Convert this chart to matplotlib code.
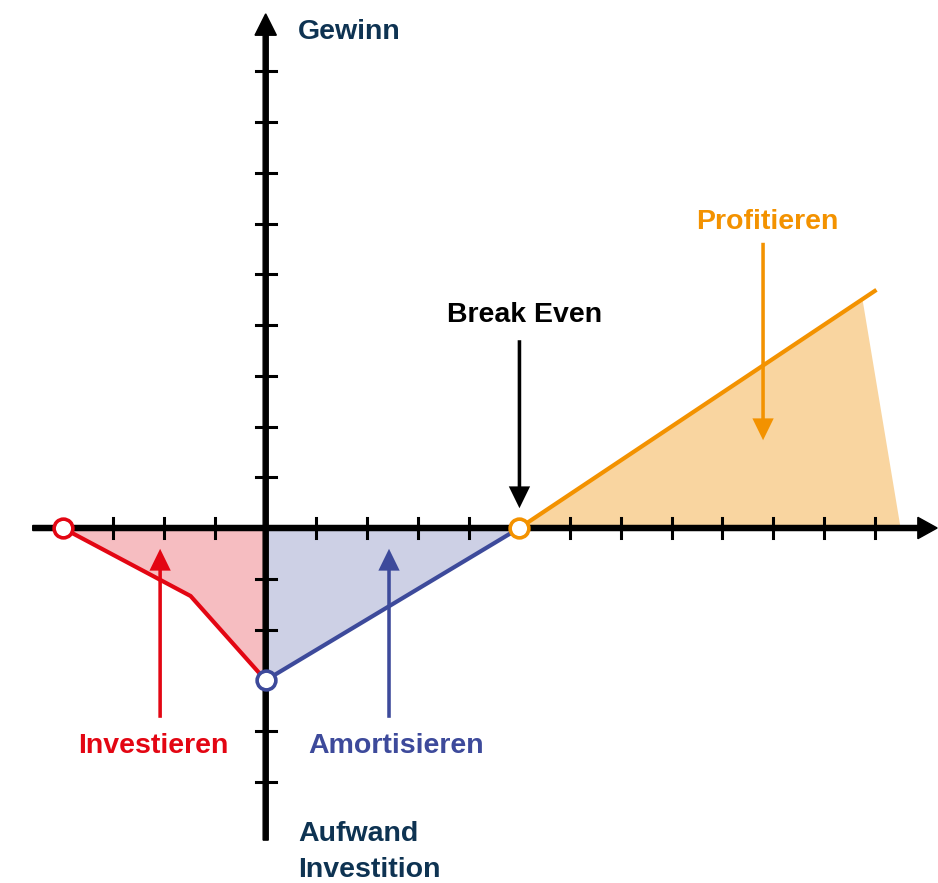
import matplotlib
matplotlib.use("Agg")
import matplotlib.pyplot as plt
from matplotlib.patches import FancyArrow

# Kurvenpunkte (Einheiten = Teilstriche)
invest_x = [-4, -1.48, 0]
invest_y = [0, -1.34, -3]
amort_x = [0, 5]
amort_y = [-3, 0]
profit_x = [5, 12]
profit_y = [0, 4.67]
profit_fill_x = [5, 11.76, 12.51]
profit_fill_y = [0, 4.5, 0]

x_ticks = [-3, -2, -1, 1, 2, 3, 4, 6, 7, 8, 9, 10, 11, 12]
y_ticks = [-5, -4, -2, -1, 1, 2, 3, 4, 5, 6, 7, 8, 9]

RED, RED_FILL = "#e30613", "#f6bdc1"
BLUE, BLUE_FILL = "#3d4a9b", "#cdd0e5"
ORANGE, ORANGE_FILL = "#f39200", "#f9d5a0"
NAVY = "#0e3352"

fig = plt.figure(figsize=(9.38, 8.83), dpi=100)
ax = fig.add_axes([0, 0, 1, 1])
ax.set_xlim(-5.235, 13.247)
ax.set_ylim(-6.995, 10.404)
ax.axis("off")

# Flächen
ax.fill(invest_x + [0], invest_y + [0], color=RED_FILL, lw=0, zorder=1)
ax.fill([0, 0, 5], [0, -3, 0], color=BLUE_FILL, lw=0, zorder=1)
ax.fill(profit_fill_x, profit_fill_y, color=ORANGE_FILL, lw=0, zorder=1)

# Kurven
ax.plot(invest_x, invest_y, color=RED, lw=3, zorder=3, solid_joinstyle="miter")
ax.plot(amort_x, amort_y, color=BLUE, lw=3, zorder=3)
ax.plot(profit_x, profit_y, color=ORANGE, lw=3, zorder=3)

# Achsen mit Pfeilspitzen
ax.add_patch(FancyArrow(-4.59, 0, 13.23 + 4.59, 0, width=0.1, head_width=0.42,
                        head_length=0.38, length_includes_head=True, color="black", zorder=4))
ax.add_patch(FancyArrow(0, -6.15, 0, 10.13 + 6.15, width=0.1, head_width=0.42,
                        head_length=0.42, length_includes_head=True, color="black", zorder=4))
for t in x_ticks:
    ax.plot([t, t], [-0.2, 0.2], color="black", lw=2.2, zorder=4)
for t in y_ticks:
    ax.plot([-0.2, 0.2], [t, t], color="black", lw=2.2, zorder=4)

# Hinweispfeile
def pointer(x, y0, y1, color):
    ax.add_patch(FancyArrow(x, y0, 0, y1 - y0, width=0.07, head_width=0.42,
                            head_length=0.43, length_includes_head=True,
                            color=color, lw=0, zorder=5))

pointer(-2.08, -3.74, -0.41, RED)
pointer(2.43, -3.74, -0.41, BLUE)
pointer(5.0, 3.70, 0.39, "black")
pointer(9.80, 5.62, 1.73, ORANGE)

# Punkte
ax.plot([-4], [0], "o", ms=13.5, mfc="white", mec=RED, mew=2.6, zorder=6)
ax.plot([0], [-3], "o", ms=13.5, mfc="white", mec=BLUE, mew=2.6, zorder=6)
ax.plot([5], [0], "o", ms=13.5, mfc="white", mec=ORANGE, mew=2.6, zorder=6)

# Beschriftungen
font = dict(family="Liberation Sans", weight="bold", fontsize=20.5)
ax.text(0.64, 9.77, "Gewinn", color=NAVY, ha="left", va="center", **font)
ax.text(9.88, 6.03, "Profitieren", color=ORANGE, ha="center", va="center", **font)
ax.text(5.11, 4.20, "Break Even", color="black", ha="center", va="center", **font)
ax.text(-2.21, -4.30, "Investieren", color=RED, ha="center", va="center", **font)
ax.text(2.56, -4.30, "Amortisieren", color=BLUE, ha="center", va="center", **font)
ax.text(0.64, -6.03, "Aufwand", color=NAVY, ha="left", va="center", **font)
ax.text(0.64, -6.74, "Investition", color=NAVY, ha="left", va="center", **font)

fig.savefig("out.png", dpi=100)
